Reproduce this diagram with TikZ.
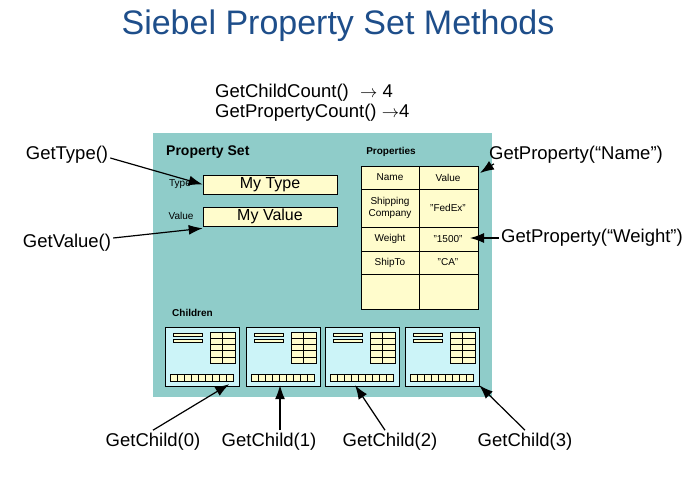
\documentclass[tikz,border=0pt]{standalone}
\usepackage{fontspec}
\usetikzlibrary{arrows.meta}
\setmainfont{Liberation Sans}
\begin{document}
\begin{tikzpicture}[x=1pt,y=-1pt,
  lbl/.style={font=\fontsize{18.5}{22}\selectfont,inner sep=0},
  small/.style={font=\fontsize{10}{12}\selectfont,inner sep=0,align=center},
  fieldbox/.style={draw,fill=yellow!20,line width=0.6pt},
  arr/.style={-{Latex[length=14pt,width=10pt]},line width=1.2pt}]
\definecolor{teal1}{HTML}{8FCCC9}
\definecolor{cbox}{HTML}{CCF4F8}
\definecolor{ttl}{HTML}{1E4E8A}
\useasboundingbox (0,0) rectangle (694,479);
\node[font=\fontsize{34}{38}\selectfont,text=ttl] (title) at (338,26) {Siebel Property Set Methods};
\node[lbl,anchor=west] (cc) at (215,93) {GetChildCount()\,\, $\rightarrow$ 4};
\node[lbl,anchor=west] (pc) at (215,113) {GetPropertyCount() $\rightarrow$4};
\fill[teal1] (153,133) rectangle (492,397);
\node[font=\bfseries\fontsize{14}{16}\selectfont,anchor=west,inner sep=0] (ps) at (166,152) {Property Set};
\node[font=\bfseries\fontsize{10}{12}\selectfont,inner sep=0] (pr) at (391,152) {Properties};
\node[font=\bfseries\fontsize{10}{12}\selectfont,anchor=west,inner sep=0] (ch) at (172,313) {Children};
\node[small] (tl) at (180,184) {Type};
\node[small] (vl) at (181,216) {Value};
\node[fieldbox,minimum width=134pt,minimum height=19pt,font=\fontsize{16}{18}\selectfont,inner sep=0] (type) at (270,184.5) {My Type};
\node[fieldbox,minimum width=134pt,minimum height=19pt,font=\fontsize{16}{18}\selectfont,inner sep=0] (val) at (270,216.5) {My Value};
% table
\draw[fieldbox] (361,166) rectangle (478,309);
\foreach \y in {189,227,251,274} \draw[line width=0.6pt] (361,\y) -- (478,\y);
\draw[line width=0.6pt] (419,166) -- (419,309);
\node[small] (n1) at (390,177.5) {Name};
\node[small] (v1) at (448,177.5) {Value};
\node[small] (n2) at (390,208) {Shipping\\Company};
\node[small] (v2) at (448,208) {"FedEx"};
\node[small] (n3) at (390,239) {Weight};
\node[small] (v3) at (448,239) {"1500"};
\node[small] (n4) at (390,262.5) {ShipTo};
\node[small] (v4) at (448,262.5) {"CA"};
\coordinate (pn) at (480,173);
\coordinate (pw) at (470,238);
% children
\foreach \i/\x in {0/165,1/246,2/325,3/405}{
  \begin{scope}[shift={(\x,0)}]
  \draw[fill=cbox,line width=0.6pt] (0,327) rectangle (74,386);
  \node[inner sep=0,minimum width=74pt,minimum height=59pt] (c\i) at (37,356.5) {};
  \draw[fill=yellow!20,line width=0.5pt] (8,333) rectangle (37,336);
  \draw[fill=yellow!20,line width=0.5pt] (8,339) rectangle (37,342);
  \draw[fill=yellow!20,line width=0.5pt] (45,332) rectangle (70,363);
  \draw[line width=0.5pt] (57.5,332) -- (57.5,363);
  \foreach \yy in {338.2,344.4,350.6,356.8} \draw[line width=0.5pt] (45,\yy) -- (70,\yy);
  \draw[fill=yellow!20,line width=0.5pt] (5,374) rectangle (68,381);
  \foreach \k in {1,...,8} \draw[line width=0.5pt] (5+\k*7,374) -- (5+\k*7,381);
  \end{scope}}
% labels
\node[lbl] (gt) at (67,155) {GetType()};
\node[lbl] (gv) at (67,243) {GetValue()};
\node[lbl] (gpn) at (576,155) {GetProperty(“Name”)};
\node[lbl] (gpw) at (592,238) {GetProperty(“Weight”)};
\node[lbl] (g0) at (153,442) {GetChild(0)};
\node[lbl] (g1) at (269,442) {GetChild(1)};
\node[lbl] (g2) at (390,442) {GetChild(2)};
\node[lbl] (g3) at (525,442) {GetChild(3)};
\draw[arr] (gt.east) ++(2,3) -- (type.west);
\draw[arr] (gv.east) ++(2,-5) -- ([yshift=-2pt]type.west |- val.south);
\draw[arr] (gpn.south west) ++(5,0) -- (pn);
\draw[arr] (gpw.west) ++(-2,0) -- (pw);
\draw[arr] (g0.north) ++(0,-3) -- ([xshift=-10pt,yshift=2pt]c0.south east);
\draw[arr] (g1.north) ++(11,-3) -- ([xshift=-3pt,yshift=1pt]c1.south);
\draw[arr] (g2.north) ++(-5,-3) -- ([xshift=-7pt,yshift=1pt]c2.south);
\draw[arr] (g3.north) ++(0,-3) -- ([yshift=1pt]c3.south east);
\end{tikzpicture}
\end{document}
